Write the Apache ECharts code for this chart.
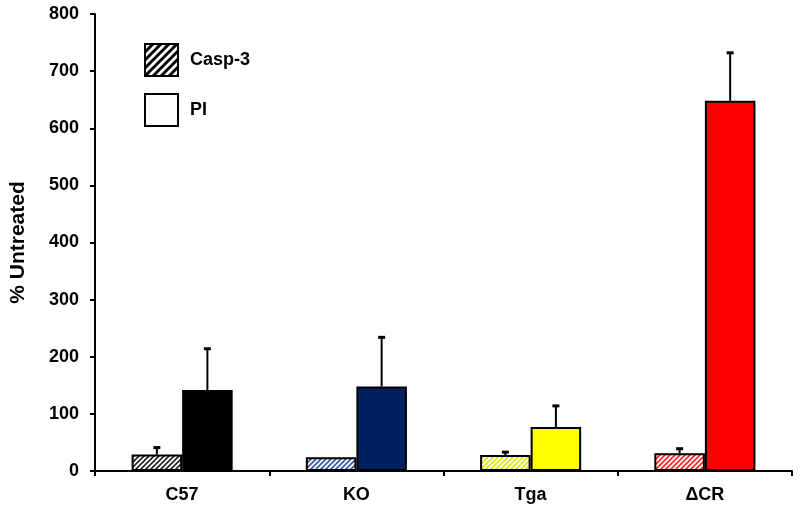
<!DOCTYPE html>
<html>
<head>
<meta charset="utf-8">
<script src="https://cdn.jsdelivr.net/npm/echarts@6/dist/echarts.min.js"></script>
<style>html,body{margin:0;padding:0;background:#fff}#c{width:800px;height:512px}</style>
</head>
<body>
<div id="c"></div>
<script>
var categories = ['C57', 'KO', 'Tga', '\u0394CR'];
var caspValues = [29, 24, 28, 31];
var caspErrors = [12, 0, 5, 8];
var piValues = [142, 148, 77, 648];
var piErrors = [72, 86, 37, 84];
var piColors = ['#000000', '#002060', '#ffff00', '#ff0000'];
var caspStripeColors = ['#222222', '#3355aa', '#e6e600', '#ff2020'];
var yTicks = [0, 100, 200, 300, 400, 500, 600, 700, 800];

function hatch(color, size, lw) {
  var c = document.createElement('canvas');
  c.width = size; c.height = size;
  var g = c.getContext('2d');
  g.fillStyle = '#ffffff';
  g.fillRect(0, 0, size, size);
  g.strokeStyle = color;
  g.lineWidth = lw;
  g.beginPath();
  g.moveTo(-size, size); g.lineTo(size, -size);
  g.moveTo(0, size * 2); g.lineTo(size * 2, 0);
  g.moveTo(0, size); g.lineTo(size, 0);
  g.stroke();
  return { image: c, repeat: 'repeat' };
}

var chart = echarts.init(document.getElementById('c'), null, { renderer: 'canvas' });

function errSeries(vals, errs, side) {
  return {
    type: 'custom',
    silent: true,
    z: 5,
    data: vals.map(function (v, i) { return [i, v, v + errs[i]]; }),
    renderItem: function (params, api) {
      var idx = api.value(0);
      var base = api.coord([idx, api.value(1)]);
      var top = api.coord([idx, api.value(2)]);
      var band = api.size([1, 0])[0];
      var bw = band * 0.58 / 2;
      var x = base[0] + side * bw / 2;
      if (api.value(2) - api.value(1) <= 0) return null;
      return {
        type: 'group',
        children: [
          { type: 'line', shape: { x1: x, y1: base[1], x2: x, y2: top[1] }, style: { stroke: '#000', lineWidth: 2 } },
          { type: 'line', shape: { x1: x - 3.5, y1: top[1], x2: x + 3.5, y2: top[1] }, style: { stroke: '#000', lineWidth: 3 } }
        ]
      };
    }
  };
}

var FONT = 'Liberation Sans, Arial, sans-serif';
var axisFont = { fontFamily: FONT, fontWeight: 'bold', fontSize: 18, color: '#000' };

chart.setOption({
  animation: false,
  backgroundColor: '#fff',
  grid: { left: 95, right: 8, top: 14, bottom: 41 },
  legend: {
    orient: 'vertical',
    left: 144,
    top: 43,
    padding: 0,
    itemWidth: 33,
    itemHeight: 32,
    itemGap: 16,
    selectedMode: false,
    textStyle: { fontFamily: FONT, fontWeight: 'bold', fontSize: 18, color: '#000', padding: [0, 0, 0, 7] },
    data: [
      { name: 'Casp-3', icon: 'rect', itemStyle: { color: hatch('#000', 8, 3), borderColor: '#000', borderWidth: 2 } },
      { name: 'PI', icon: 'rect', itemStyle: { color: '#fff', borderColor: '#000', borderWidth: 2 } }
    ]
  },
  xAxis: {
    type: 'category',
    data: categories,
    axisLine: { lineStyle: { color: '#000', width: 2 } },
    axisTick: { show: true, length: 5, lineStyle: { color: '#000', width: 2 } },
    axisLabel: Object.assign({ margin: 15 }, axisFont)
  },
  yAxis: {
    type: 'value',
    min: 0, max: 800, interval: 100,
    name: '% Untreated',
    nameLocation: 'middle',
    nameGap: 66,
    nameTextStyle: { fontFamily: FONT, fontWeight: 'bold', fontSize: 21, color: '#000' },
    splitLine: { show: false },
    axisLine: { show: true, lineStyle: { color: '#000', width: 2 } },
    axisTick: { show: true, length: 5, lineStyle: { color: '#000', width: 2 } },
    axisLabel: Object.assign({ margin: 16, formatter: function (v) { return yTicks.indexOf(v) >= 0 ? String(v) : ''; } }, axisFont)
  },
  series: [
    {
      name: 'Casp-3',
      type: 'bar',
      barGap: '0%',
      barCategoryGap: '42%',
      data: caspValues.map(function (v, i) {
        return { value: v, itemStyle: { color: hatch(caspStripeColors[i], 5, 1.6), borderColor: '#000', borderWidth: 2 } };
      })
    },
    {
      name: 'PI',
      type: 'bar',
      barGap: '0%',
      barCategoryGap: '42%',
      data: piValues.map(function (v, i) {
        return { value: v, itemStyle: { color: piColors[i], borderColor: '#000', borderWidth: 2 } };
      })
    },
    errSeries(caspValues, caspErrors, -1),
    errSeries(piValues, piErrors, 1)
  ]
});
</script>
</body>
</html>
